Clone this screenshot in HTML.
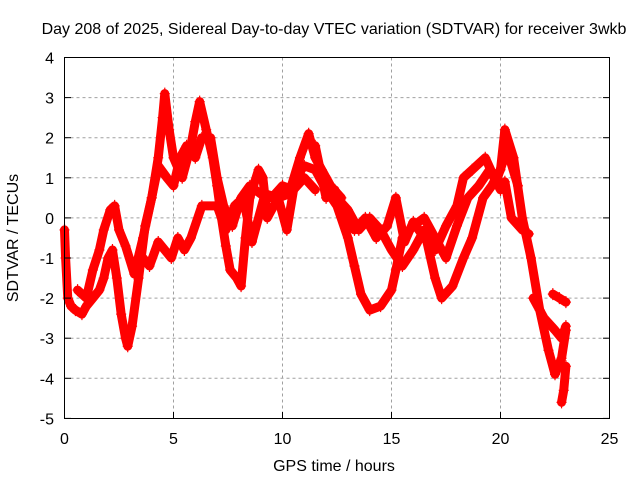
<!DOCTYPE html>
<html><head><meta charset="utf-8"><style>
body{margin:0;background:#fff;}
svg{display:block;font-family:"Liberation Sans","DejaVu Sans",sans-serif;}
</style></head><body>
<svg id="chart" width="640" height="480" viewBox="0 0 640 480">
<text x="334" y="34" font-size="16" text-anchor="middle" fill="#000">Day 208 of 2025, Sidereal Day-to-day VTEC variation (SDTVAR) for receiver 3wkb</text>
<g id="grid"></g>
<g id="series"></g>
<rect x="64.5" y="57.5" width="545" height="361" fill="none" stroke="#000" stroke-width="1"/>
<g id="axes"></g>
<text x="334" y="471" font-size="16" text-anchor="middle">GPS time / hours</text>
<text transform="translate(18,238) rotate(-90)" font-size="16" text-anchor="middle">SDTVAR / TECUs</text>
</svg>
<script>
const xTicks=[0,5,10,15,20,25];
const yTicks=[4,3,2,1,0,-1,-2,-3,-4,-5];
const tA=[0,0.05,0.15,0.3,0.5,0.8,1.0,1.3,1.6,1.8,2.0,2.2,2.4,2.6,2.8,2.9,3.1,3.4,3.7,4.0,4.3,4.5,4.6,4.8,5.0,5.4,5.8,6.0,6.2,6.5,6.8,7.0,7.2,7.4,7.6,7.9,8.1,8.3,8.5,8.9,9.1,9.3,9.6,9.8,10.3,10.8,11.2,11.5,11.8,12.2,12.7];
const vA=[-0.3,-1.0,-2.0,-2.2,-2.3,-2.4,-2.2,-2.0,-1.8,-1.5,-1.0,-0.8,-1.5,-2.4,-3.0,-3.2,-2.7,-1.5,-0.2,0.5,1.5,2.5,3.1,2.2,1.5,1.0,1.8,2.4,2.9,2.2,1.5,0.8,0.0,-0.7,-1.3,-1.5,-1.7,-0.5,0.5,1.2,1.0,0.0,0.3,0.5,0.6,1.5,2.1,1.5,1.2,0.8,0.5];
const tB=[0.6,1.0,1.3,1.6,1.8,2.1,2.3,2.5,2.8,3.2,3.6,4.0,4.3,4.7,5.0,5.3,5.6,6.0,6.3,6.7,7.0,7.3,7.7,8.1,8.5,9.0,9.5,10.0,10.5,11.0,11.5];
const vB=[-1.8,-2.0,-1.3,-0.8,-0.3,0.2,0.3,-0.3,-0.7,-1.4,-0.5,0.5,1.3,1.0,0.8,1.5,1.8,1.5,2.0,2.0,1.0,0.3,-0.2,0.5,0.8,0.6,0.5,0.8,0.7,1.0,0.7];
const tC=[3.6,3.9,4.3,4.6,4.9,5.2,5.5,5.8,6.3,7.0,7.4,7.8,8.2,8.6,9.2,9.8,10.2,10.6,11.0,11.5,12.0];
const vC=[-1.0,-1.2,-0.6,-0.8,-1.0,-0.5,-0.8,-0.5,0.3,0.3,-0.3,0.3,0.5,-0.6,0.6,0.5,-0.3,1.0,1.3,1.2,0.7];
const tD=[12.0,12.5,13.0,13.3,13.6,14.0,14.5,15.0,15.2,15.5,16.0,16.5,17.0,17.5,18.0,18.5,19.0,19.5,20.0,20.2,20.5,21.0,21.3];
const vD=[0.7,0.3,-0.5,-1.2,-1.9,-2.3,-2.2,-1.8,-1.3,-0.5,-0.2,0.0,-0.5,-1.0,-0.2,0.5,0.8,1.2,0.7,0.9,0.0,-0.3,-0.4];
const tE=[12.0,12.5,13.0,13.5,14.0,14.5,15.0,15.5,16.0,16.5,17.0,17.3,17.8,18.3,18.7,19.2,19.6,20.0,20.2,20.6,21.0,21.4,21.8,22.2,22.5,22.8,23.0];
const vE=[1.0,0.5,0.2,-0.3,0.0,-0.3,-0.8,-1.2,-0.8,-0.3,-1.5,-2.0,-1.7,-1.0,-0.5,0.5,0.8,1.2,2.2,1.5,0.0,-1.0,-2.3,-3.3,-3.9,-3.5,-2.8];
const tF=[11.5,12.0,12.4,12.8,13.3,13.8,14.3,14.8,15.2,15.6,16.0,16.5,17.0,17.5,18.0,18.3,18.7,19.3,19.8,20.3,20.8];
const vF=[1.8,0.5,0.7,0.0,-0.3,0.0,-0.5,-0.2,0.5,-0.6,-0.1,-0.5,-0.8,-0.2,0.3,1.0,1.2,1.5,0.9,1.7,0.8];
const tG=[21.5,22.0,22.5,22.8,23.0];
const vG=[-2.0,-2.5,-2.8,-3.0,-2.7];
const tH=[22.4,22.7,23.0];
const vH=[-1.9,-2.0,-2.1];
const tI=[22.8,22.9,23.0];
const vI=[-4.6,-4.3,-3.7];
const series=[[tA,vA],[tB,vB],[tC,vC],[tD,vD],[tE,vE],[tF,vF],[tG,vG],[tH,vH],[tI,vI]];

const NS='http://www.w3.org/2000/svg';
const X=t=>64.5+t*21.8;
const Y=v=>57.5+(4-v)*40.1;
const grid=document.getElementById('grid'),axes=document.getElementById('axes'),ser=document.getElementById('series');
function mk(tag,attrs,parent){const e=document.createElementNS(NS,tag);for(const k in attrs)e.setAttribute(k,attrs[k]);parent.appendChild(e);return e;}
xTicks.forEach(t=>{
  if(t>0&&t<25){const g=mk('line',{x1:X(t),x2:X(t),y1:57.5,y2:418.5,stroke:'#a0a0a0','stroke-dasharray':'3,3'},grid);
  
  }
  const tk=mk('line',{x1:X(t),x2:X(t),y1:418.5,y2:412,stroke:'#000'},axes);
  
  
  const tx=mk('text',{x:X(t),y:444,'font-size':16,'text-anchor':'middle'},axes);tx.textContent=t;
  
  
});
yTicks.forEach(v=>{
  if(v<4&&v>-5){const g=mk('line',{x1:64.5,x2:609.5,y1:Y(v),y2:Y(v),stroke:'#a0a0a0','stroke-dasharray':'3,3'},grid);
  
  }
  const tk=mk('line',{x1:64.5,x2:71,y1:Y(v),y2:Y(v),stroke:'#000'},axes);
  
  
  const tk2=mk('line',{x1:603,x2:609.5,y1:Y(v),y2:Y(v),stroke:'#000'},axes);
  
  
  const tx=mk('text',{x:54,y:Y(v)+6,'font-size':16,'text-anchor':'end'},axes);tx.textContent=v;
  
  
});
series.forEach(([ts,vs],i)=>{
  const pts=ts.map((t,j)=>X(t)+','+Y(vs[j])).join(' ');
  const pl=mk('polyline',{points:pts,fill:'none',stroke:'#ff0000','stroke-width':9,'stroke-linejoin':'round','stroke-linecap':'round'},ser);
  
  
  ts.forEach((t,j)=>{
    const x=X(t),y=Y(vs[j]);
    const p=mk('path',{d:`M${x-5},${y}H${x+5}M${x},${y-6}V${y+6}`,stroke:'#ff0000','stroke-width':1.2},ser);
    
    
  });
});
</script>
</body></html>
